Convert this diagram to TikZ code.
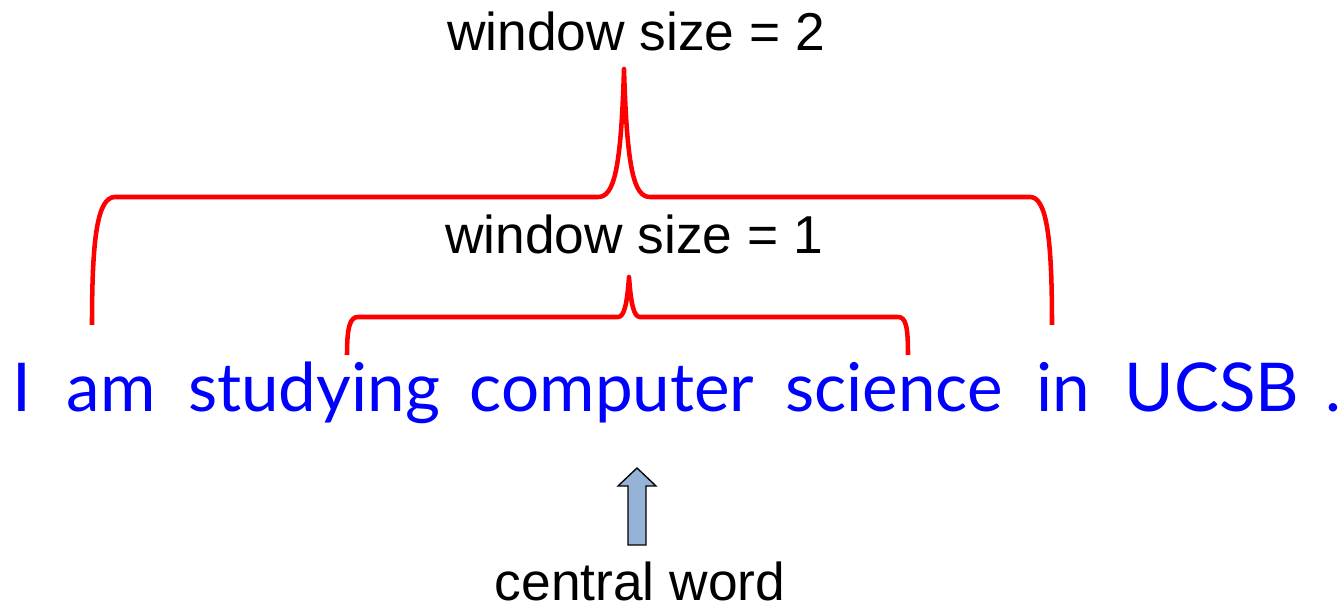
\documentclass[tikz,border=0pt]{standalone}
\usepackage{fontspec}
\setmainfont{Liberation Sans}
\newfontfamily\wordfont{Lato}
\definecolor{arrowfill}{HTML}{95B3D7}
\begin{document}
\begin{tikzpicture}[x=0.75pt,y=-0.75pt,
  word/.style={text=blue,font=\wordfont\fontsize{50.5}{60}\selectfont,anchor=base,inner sep=0pt},
  label/.style={text=black,font=\fontsize{40}{46}\selectfont,anchor=base,inner sep=0pt},
  brace/.style={draw=red,line width=3.4pt,line join=round}]
\useasboundingbox (0,0) rectangle (1340,609);
% words
\node[word] (w1) at (22,412) {I};
\node[word] (w2) at (111,412) {am};
\node[word] (w3) at (314,412) {studying};
\node[word] (w4) at (612,412) {computer};
\node[word] (w5) at (894,412) {science};
\node[word] (w6) at (1063,412) {in};
\node[word] (w7) at (1212,412) {UCSB};
\node[word] (w8) at (1333,412) {.};
% labels
\node[label] (ws2) at (636,51) {window size = 2};
\node[label] (ws1) at (634,254) {window size = 1};
\node[label] (cw) at (640,601) {central word};
% outer brace
\draw[brace] (92,325) .. controls (92,240) and (97,197) .. (115,197) -- (598,197)
  .. controls (614,197) and (621,170) .. (624,69)
  .. controls (627,170) and (634,197) .. (650,197) -- (1030,197)
  .. controls (1047,197) and (1052,240) .. (1052,325);
% inner brace
\draw[brace] (347,355) .. controls (347,327) and (350,317) .. (358,317) -- (618,317)
  .. controls (624,317) and (627,305) .. (629,277)
  .. controls (631,305) and (634,317) .. (640,317) -- (898,317)
  .. controls (906,317) and (908,327) .. (908,355);
% block arrow
\draw[fill=arrowfill,line width=1pt,line join=miter] (628,545) -- (628,486) -- (618,486) -- (637,468) -- (656,486) -- (646,486) -- (646,545) -- cycle;
\end{tikzpicture}
\end{document}
